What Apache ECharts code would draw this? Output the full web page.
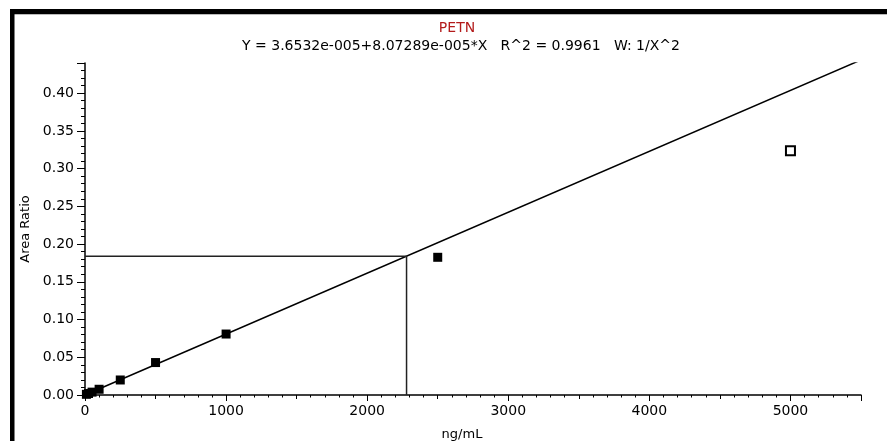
<!DOCTYPE html>
<html>
<head>
<meta charset="utf-8">
<script src="https://cdn.jsdelivr.net/npm/echarts@6/dist/echarts.min.js"></script>
<style>
html,body{margin:0;padding:0;background:#fff;}
#c{width:887px;height:441px;}
</style>
</head>
<body>
<div id="c"></div>
<script>
var chartTitle = 'PETN';
var chartSubtitle = 'Y = 3.6532e-005+8.07289e-005*X   R^2 = 0.9961   W: 1/X^2';
var xName = 'ng/mL';
var yName = 'Area Ratio';

// calibration standards (used)
var stdX = [10, 25, 50, 100, 250, 500, 1000, 2500];
var stdY = [0.0009, 0.002, 0.0038, 0.0076, 0.0199, 0.0430, 0.0808, 0.1825];
// excluded standard
var exclX = [5000];
var exclY = [0.3236];
// regression line endpoints
var fitX = [0, 5500];
var fitY = [0.0000365, 0.44405];
// unknown sample crosshair
var unkX = [0, 2279, 2279];
var unkY = [0.184, 0.184, 0];

function pairs(xs, ys){ return xs.map(function(x,i){ return [x, ys[i]]; }); }

var chart = echarts.init(document.getElementById('c'));
var font = 'DejaVu Sans, sans-serif';
chart.setOption({
  animation: false,
  backgroundColor: '#fff',
  title: [{
    text: chartTitle,
    left: 452, top: 16, textAlign: 'center',
    textStyle: {color: '#b31b1b', fontSize: 14, fontWeight: 'normal', fontFamily: font}
  },{
    text: chartSubtitle,
    left: 456, top: 34, textAlign: 'center',
    textStyle: {color: '#000', fontSize: 14, fontWeight: 'normal', fontFamily: font}
  }],
  grid: {left: 85, right: 26, top: 63, bottom: 46, containLabel: false, outerBoundsMode: 'none'},
  xAxis: [{
    type: 'value', min: 0, max: 5500, interval: 1000, position: 'bottom',
    name: xName, nameLocation: 'middle', nameGap: 33,
    nameTextStyle: {color: '#000', fontSize: 13, fontFamily: font, padding: [0, 22, 0, 0]},
    axisLine: {show: true, onZero: false, lineStyle: {color: '#000', width: 1.5}},
    axisTick: {show: true, length: 6, lineStyle: {color: '#000', width: 1}},
    minorTick: {show: true, splitNumber: 10, length: 2.5, lineStyle: {color: '#000', width: 1}},
    axisLabel: {color: '#000', fontSize: 14, fontFamily: font, margin: 9,
      formatter: function(v){ return v > 5000 ? '' : String(v); }},
    splitLine: {show: false}
  },{
    type: 'value', min: 0, max: 5500, interval: 500, position: 'bottom',
    axisLine: {show: false, onZero: false},
    axisTick: {show: true, length: 4, lineStyle: {color: '#000', width: 1}},
    axisLabel: {show: false},
    splitLine: {show: false}
  }],
  yAxis: [{
    type: 'value', min: 0, max: 0.44, interval: 0.05, position: 'left',
    name: yName, nameLocation: 'middle', nameGap: 50, nameRotate: 90,
    nameTextStyle: {color: '#000', fontSize: 13, fontFamily: font},
    axisLine: {show: true, onZero: false, lineStyle: {color: '#000', width: 1.5}},
    axisTick: {show: true, length: 8, lineStyle: {color: '#000', width: 1}},
    minorTick: {show: true, splitNumber: 5, length: 4, lineStyle: {color: '#000', width: 1}},
    axisLabel: {color: '#000', fontSize: 14, fontFamily: font, margin: 11,
      formatter: function(v){ return v > 0.41 ? '' : v.toFixed(2); }},
    splitLine: {show: false}
  }],
  series: [{
    type: 'line', data: pairs(fitX, fitY), symbol: 'none', silent: true,
    lineStyle: {color: '#000', width: 1.5}, z: 2
  },{
    type: 'line', data: pairs(unkX, unkY), symbol: 'none', silent: true,
    lineStyle: {color: '#222', width: 1.5}, z: 2
  },{
    type: 'scatter', data: pairs(stdX, stdY), symbol: 'rect', symbolSize: 9,
    itemStyle: {color: '#000', opacity: 1}, z: 5
  },{
    type: 'scatter', data: pairs(exclX, exclY), symbol: 'rect', symbolSize: 9,
    itemStyle: {color: '#fff', borderColor: '#000', borderWidth: 2, opacity: 1}, z: 5
  }],
  graphic: [
    {type: 'rect', shape: {x: 10, y: 9, width: 877, height: 5}, style: {fill: '#000'}, z: 100},
    {type: 'rect', shape: {x: 14, y: 14, width: 873, height: 1}, style: {fill: '#bbb'}, z: 100},
    {type: 'rect', shape: {x: 10, y: 9, width: 4.5, height: 432}, style: {fill: '#000'}, z: 100}
  ]
});
</script>
</body>
</html>
